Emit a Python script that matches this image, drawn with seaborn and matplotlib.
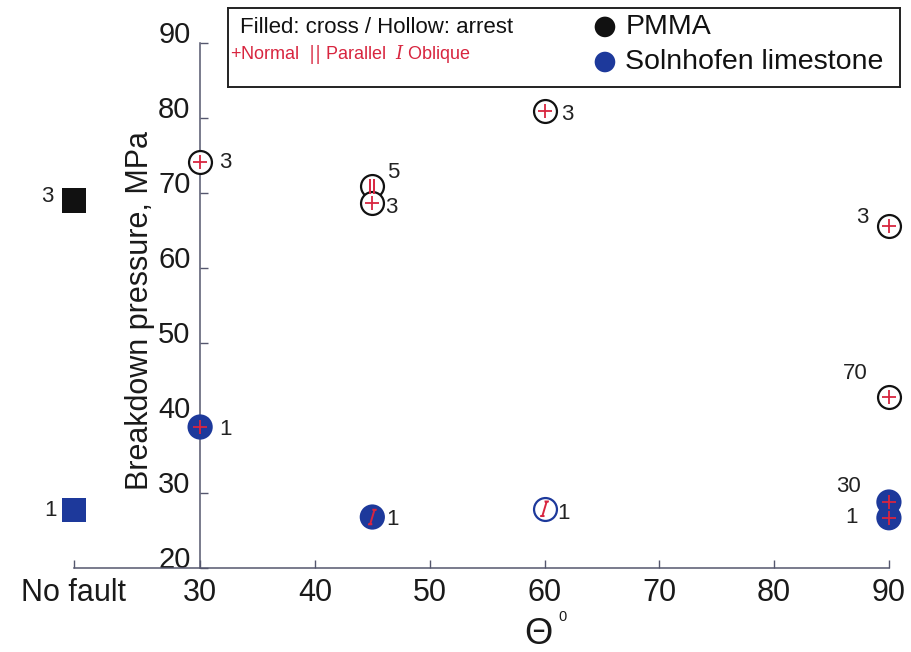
import matplotlib
matplotlib.use("Agg")
import matplotlib.pyplot as plt
from matplotlib.path import Path
import seaborn as sns
import pandas as pd

# ---------------- data ----------------
pmma_theta = ['No fault', 30, 45, 45, 60, 90, 90]
pmma_pressure = [69.0, 74.1, 70.9, 68.7, 80.9, 65.6, 42.8]
pmma_state = ['filled', 'hollow', 'hollow', 'hollow', 'hollow', 'hollow', 'hollow']
pmma_orient = ['none', 'normal', 'parallel', 'normal', 'normal', 'normal', 'normal']
pmma_count = ['3', '3', '5', '3', '3', '3', '70']

lime_theta = ['No fault', 30, 45, 60, 90, 90]
lime_pressure = [27.7, 38.8, 26.8, 27.9, 28.8, 26.7]
lime_state = ['filled', 'filled', 'filled', 'hollow', 'filled', 'filled']
lime_orient = ['none', 'normal', 'oblique', 'oblique', 'normal', 'normal']
lime_count = ['1', '1', '1', '1', '30', '1']

x_ticks = [30, 40, 50, 60, 70, 80, 90]
y_ticks = [20, 30, 40, 50, 60, 70, 80, 90]

# label offsets (points) -- layout only
pmma_offsets = [(-19, 3), (18, 0), (15, 10), (14, -3.6), (16.5, -2), (-19.5, 6), (-24, 17)]
lime_offsets = [(-16.5, 0), (18, -1.5), (14.5, -2), (13.7, -3.6), (-29, 11), (-26.6, 0)]

NO_FAULT_POS = 19

df = pd.concat([
    pd.DataFrame({'theta': pmma_theta, 'pressure': pmma_pressure, 'state': pmma_state,
                  'orient': pmma_orient, 'count': pmma_count, 'material': 'PMMA',
                  'off': pmma_offsets}),
    pd.DataFrame({'theta': lime_theta, 'pressure': lime_pressure, 'state': lime_state,
                  'orient': lime_orient, 'count': lime_count, 'material': 'Solnhofen limestone',
                  'off': lime_offsets}),
], ignore_index=True)
df['x'] = [NO_FAULT_POS if t == 'No fault' else float(t) for t in df['theta']]

# ---------------- style ----------------
sns.set_theme(style='white')
plt.rcParams['font.family'] = ['Liberation Sans', 'DejaVu Sans']
plt.rcParams['mathtext.fontset'] = 'dejavuserif'

colors = {'PMMA': '#111111', 'Solnhofen limestone': '#1d399b'}
red = '#d8253f'
axis_col = '#55576e'

# symbol paths (line art)
par_path = Path([(-0.28, -1), (-0.28, 1), (0.28, -1), (0.28, 1)],
                [Path.MOVETO, Path.LINETO, Path.MOVETO, Path.LINETO])
obl_path = Path([(-0.3, -1), (0.3, 1), (0.0, 1), (0.6, 1), (-0.6, -1), (0.0, -1)],
                [Path.MOVETO, Path.LINETO, Path.MOVETO, Path.LINETO, Path.MOVETO, Path.LINETO])

fig = plt.figure(figsize=(9.12, 6.52), dpi=100)
ax = fig.add_axes([0.0797, 0.1288, 0.895, 0.8628])
ax.set_xlim(18.9, 90)
ax.set_ylim(20, 95)

nofault = df[df['theta'] == 'No fault']
fault = df[df['theta'] != 'No fault']

sns.scatterplot(data=nofault, x='x', y='pressure', hue='material', palette=colors,
                marker='s', s=300, linewidth=0, legend=False, ax=ax, clip_on=False, zorder=3)

filled = fault[fault['state'] == 'filled']
sns.scatterplot(data=filled, x='x', y='pressure', hue='material', palette=colors,
                marker='o', s=330, linewidth=0, legend=False, ax=ax, clip_on=False, zorder=3)

hollow = fault[fault['state'] == 'hollow']
for mat, sub in hollow.groupby('material'):
    sns.scatterplot(data=sub, x='x', y='pressure', marker='o', s=272, color='white',
                    edgecolor=colors[mat], linewidth=1.6, legend=False, ax=ax,
                    clip_on=False, zorder=4)

sub = fault[fault['orient'] == 'normal']
sns.scatterplot(data=sub, x='x', y='pressure', marker='+', s=110, color=red,
                linewidth=1.3, legend=False, ax=ax, clip_on=False, zorder=5)
for orient, mk in [('parallel', par_path), ('oblique', obl_path)]:
    sub = fault[fault['orient'] == orient]
    sns.scatterplot(data=sub, x='x', y='pressure', marker=mk, s=110, color='none',
                    edgecolor=red, linewidth=1.4, legend=False, ax=ax,
                    clip_on=False, zorder=5)

for _, r in df.iterrows():
    ax.annotate(r['count'], (r['x'], r['pressure']), xytext=r['off'],
                textcoords='offset points', ha='center', va='center',
                fontsize=16, color='#222222', annotation_clip=False)

# ---------------- axes ----------------
for s in ['top', 'right']:
    ax.spines[s].set_visible(False)
ax.spines['left'].set_position(('data', 30))
ax.spines['left'].set_bounds(20, 90)
ax.spines['bottom'].set_bounds(NO_FAULT_POS, 90)
for s in ['left', 'bottom']:
    ax.spines[s].set_color(axis_col)
    ax.spines[s].set_linewidth(1.1)

ax.set_xticks([NO_FAULT_POS] + x_ticks)
ax.set_xticklabels(['No fault'] + [str(v) for v in x_ticks])
ax.set_yticks(y_ticks)
ax.set_yticklabels([str(v) for v in y_ticks])
ax.tick_params(axis='both', direction='in', length=6, width=1, color=axis_col,
               labelcolor='#1a1a1a')
ax.tick_params(axis='y', pad=7, left=True, labelsize=21)
ax.tick_params(axis='x', pad=7, bottom=True, labelsize=22)
for lab in ax.get_yticklabels():
    lab.set_verticalalignment('baseline')
ax.set_xlabel('')
ax.set_ylabel('')

fig.text(0.1535, 0.5245, 'Breakdown pressure, MPa', rotation=90, ha='center',
         va='center', fontsize=22, color='#1a1a1a')
fig.text(538 / 912, 1 - 635 / 652, 'Θ', ha='center', va='center', fontsize=26,
         color='#1a1a1a')
fig.text(563 / 912, 1 - 617 / 652, '0', ha='center', va='center', fontsize=10.5,
         color='#1a1a1a')

# ---------------- custom legend box ----------------
leg_ax = fig.add_axes([0.25, 0.8666, 0.7368, 0.1212], zorder=10)
leg_ax.set_xlim(0, 1)
leg_ax.set_ylim(0, 1)
leg_ax.set_xticks([])
leg_ax.set_yticks([])
leg_ax.set_facecolor('white')
for s in leg_ax.spines.values():
    s.set_visible(True)
    s.set_color('#222222')
    s.set_linewidth(1.4)

leg_ax.text(0.0179, 0.755, 'Filled: cross / Hollow: arrest', ha='left', va='center',
            fontsize=16, color='#111111')
leg_ax.text(0.003, 0.41, r'+Normal  $||$ Parallel  $\mathit{I}$ Oblique', ha='left',
            va='center', fontsize=13, color=red)
legend_df = pd.DataFrame({'material': ['PMMA', 'Solnhofen limestone'],
                          'lx': [0.561, 0.561], 'ly': [0.76, 0.316]})
sns.scatterplot(data=legend_df, x='lx', y='ly', hue='material', palette=colors,
                s=220, linewidth=0, legend=False, ax=leg_ax)
leg_ax.set_xlabel('')
leg_ax.set_ylabel('')
for _, r in legend_df.iterrows():
    leg_ax.text(0.591, r['ly'], r['material'], ha='left', va='center',
                fontsize=20.5, color='#111111')

fig.savefig('out.png', dpi=100)
